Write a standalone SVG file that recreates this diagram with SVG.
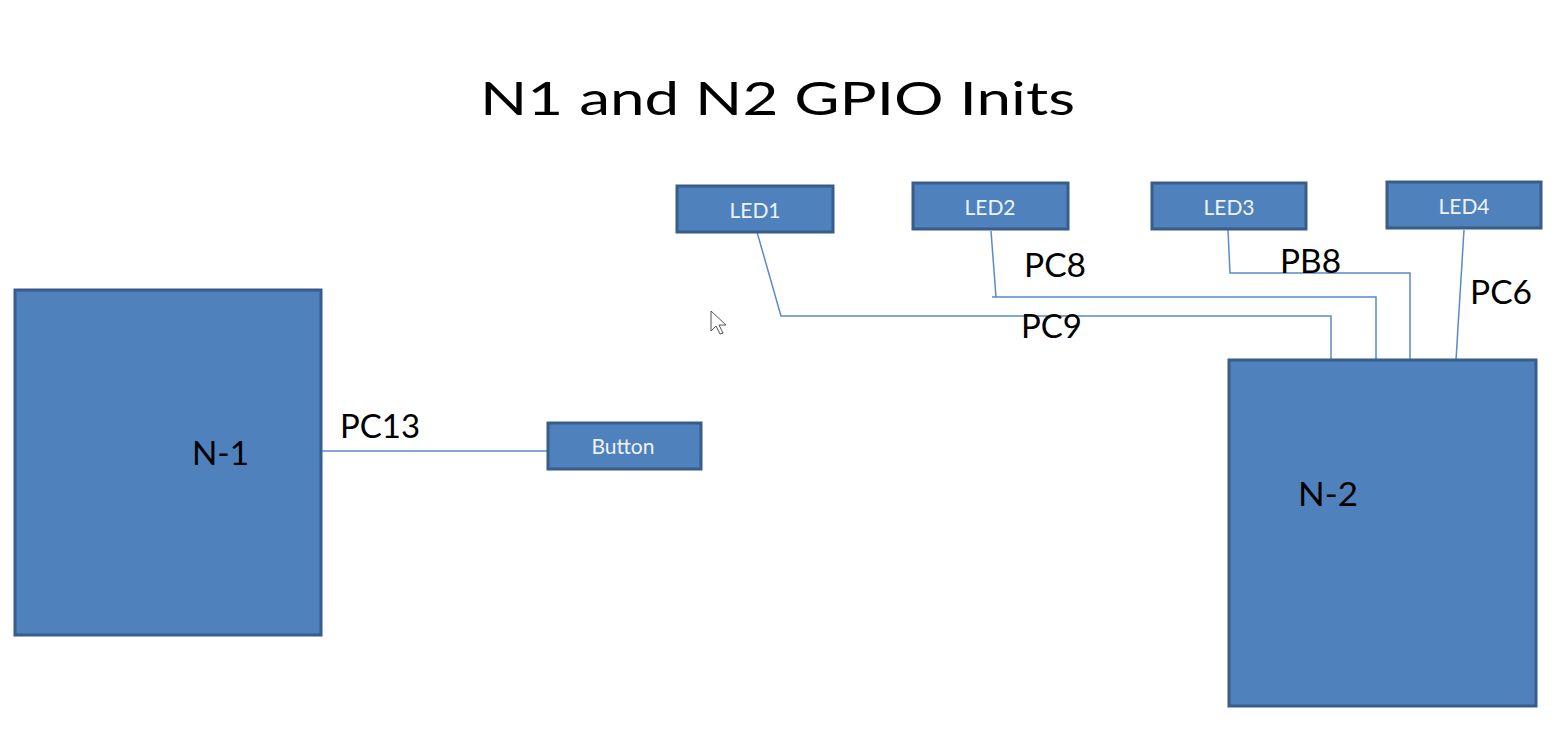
<svg xmlns="http://www.w3.org/2000/svg" width="1557" height="736" viewBox="0 0 1557 736">
<style>
.big{fill:#4f81bd;stroke:#385d8a;stroke-width:3}
.small{fill:#4f81bd;stroke:#385d8a;stroke-width:3}
.lbl{font-family:Lato,"Open Sans",sans-serif;fill:#000;font-size:33px}
.wl{font-family:Lato,"Open Sans",sans-serif;fill:#eef3fa;font-size:21px;text-anchor:middle}
.wire{fill:none;stroke:#5b8bc6;stroke-width:1.5}
</style>
<rect width="1557" height="736" fill="#ffffff"/>
<text x="480" y="115" font-family="Lato,'Open Sans',sans-serif" font-size="47" textLength="595" lengthAdjust="spacingAndGlyphs">N1 and N2 GPIO Inits</text>
<g id="connectors">
<path class="wire" d="M321,451 H548"/>
<path class="wire" d="M757,232 L781,316 H1331 V360"/>
<path class="wire" d="M991,231 L996,297"/>
<path class="wire" d="M992,297 H1376 V360"/>
<path class="wire" d="M1228,230 L1230,273 H1410 V360"/>
<path class="wire" d="M1464,230 L1456,360"/>
</g>
<g id="n1">
<rect class="big" x="15" y="290" width="306" height="345"/>
<text class="lbl" x="192" y="465" textLength="57" lengthAdjust="spacingAndGlyphs">N-1</text>
</g>
<g id="n2">
<rect class="big" x="1229" y="360" width="307" height="346"/>
<text class="lbl" x="1298" y="506" textLength="60" lengthAdjust="spacingAndGlyphs">N-2</text>
</g>
<g id="button">
<rect class="small" x="548" y="423" width="153" height="46"/>
<text class="wl" x="623" y="454">Button</text>
</g>
<g id="led1">
<rect class="small" x="677" y="186" width="156" height="46"/>
<text class="wl" x="755" y="218">LED1</text>
</g>
<g id="led2">
<rect class="small" x="913" y="183" width="155" height="46"/>
<text class="wl" x="990" y="215">LED2</text>
</g>
<g id="led3">
<rect class="small" x="1152" y="183" width="154" height="46"/>
<text class="wl" x="1229" y="215">LED3</text>
</g>
<g id="led4">
<rect class="small" x="1387" y="182" width="154" height="46"/>
<text class="wl" x="1464" y="214">LED4</text>
</g>
<g id="labels">
<text class="lbl" x="340" y="438" textLength="80" lengthAdjust="spacingAndGlyphs">PC13</text>
<text class="lbl" x="1024" y="277" textLength="62" lengthAdjust="spacingAndGlyphs">PC8</text>
<text class="lbl" x="1021" y="338" textLength="61" lengthAdjust="spacingAndGlyphs">PC9</text>
<text class="lbl" x="1280" y="273" textLength="61" lengthAdjust="spacingAndGlyphs">PB8</text>
<text class="lbl" x="1470" y="304" textLength="62" lengthAdjust="spacingAndGlyphs">PC6</text>
</g>
<polygon points="711,311 711,331 716,326 720,334 723,333 719,325 726,325" fill="#fff" stroke="#555" stroke-width="1"/>
</svg>
